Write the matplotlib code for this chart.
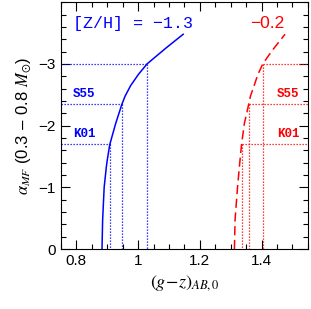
import numpy as np
import matplotlib
matplotlib.use("Agg")
import matplotlib.pyplot as plt
from matplotlib.ticker import MultipleLocator, FixedLocator, FixedFormatter

plt.rcParams['font.family'] = ['Liberation Sans', 'DejaVu Sans']
plt.rcParams['mathtext.fontset'] = 'stix'

# curves: alpha_MF vs colour
alpha_poor = [0.0, -0.47, -1.0, -1.33, -1.44, -1.69, -2.03, -2.34, -2.48,
              -2.65, -2.83, -3.0, -3.13, -3.26, -3.48]
gz_poor = [0.883, 0.885, 0.890, 0.897, 0.900, 0.908, 0.927, 0.947, 0.958,
           0.976, 1.001, 1.029, 1.060, 1.091, 1.146]
alpha_rich = [0.0, -0.47, -1.0, -1.33, -1.69, -2.03, -2.34, -2.48,
              -2.65, -2.83, -3.0, -3.13, -3.26, -3.48]
gz_rich = [1.312, 1.314, 1.322, 1.328, 1.335, 1.344, 1.358, 1.364,
           1.376, 1.388, 1.404, 1.422, 1.441, 1.476]

# reference slopes (K01, S55, -3)
ref_alpha = [-1.7, -2.35, -3.0]
ref_names = ['K01', 'S55', '']
ref_gz_poor = [0.908, 0.949, 1.029]
ref_gz_rich = [1.335, 1.359, 1.405]

xticks = [0.8, 1.0, 1.2, 1.4]
xticklabels = ['0.8', '1', '1.2', '1.4']
yticks = [0, -1, -2, -3]
yticklabels = ['0', '\u22121', '\u22122', '\u22123']

XMIN, XMAX = 0.75, 1.55
YMIN, YMAX = 0.0, -4.0

fig = plt.figure(figsize=(3.11, 3.09), dpi=100)
ax = fig.add_axes([0.196, 0.194, 0.794, 0.799])

ax.plot(gz_poor, alpha_poor, color='blue', lw=1.1)
ax.plot(gz_rich, alpha_rich, color='red', lw=1.1, ls=(0, (6, 3)))

dots = (0, (1, 1.4))
for a, xp, xr in zip(ref_alpha, ref_gz_poor, ref_gz_rich):
    ax.plot([XMIN, xp], [a, a], color='blue', lw=0.9, ls=dots)
    ax.plot([xp, xp], [a, YMIN], color='blue', lw=0.9, ls=dots)
    ax.plot([xr, XMAX], [a, a], color='red', lw=0.9, ls=dots)
    ax.plot([xr, xr], [a, YMIN], color='red', lw=0.9, ls=dots)

for a, name in zip(ref_alpha, ref_names):
    if not name:
        continue
    ax.text(0.789, a - 0.17, name, color='blue', fontsize=9, fontweight='bold',
            family='Liberation Mono', ha='left', va='center')
    ax.text(1.523, a - 0.17, name, color='red', fontsize=9, fontweight='bold',
            family='Liberation Mono', ha='right', va='center')

ax.text(0.789, -3.66, '[Z/H] = \u22121.3', color='blue', fontsize=12,
        family='Liberation Mono', ha='left', va='center')
ax.text(1.475, -3.66, '\u22120.2', color='red', fontsize=12.5,
        family='Liberation Sans', ha='right', va='center')

ax.set_xlim(XMIN, XMAX)
ax.set_ylim(YMIN, YMAX)
ax.xaxis.set_major_locator(FixedLocator(xticks))
ax.xaxis.set_major_formatter(FixedFormatter(xticklabels))
ax.xaxis.set_minor_locator(MultipleLocator(0.05))
ax.yaxis.set_major_locator(FixedLocator(yticks))
ax.yaxis.set_major_formatter(FixedFormatter(yticklabels))
ax.yaxis.set_minor_locator(MultipleLocator(0.2))
ax.tick_params(which='both', direction='in', top=True, right=True, labelsize=11)
ax.tick_params(which='major', length=6.5, width=0.8)
ax.tick_params(which='minor', length=3.3, width=0.8)

ax.set_xlabel(r'$(g\!-\!z)_{AB,0}$', fontsize=13, labelpad=4)
ax.set_ylabel(r'$\alpha_{MF}$ (0.3 $-$ 0.8 $M_{\odot}$)', fontsize=12, labelpad=4)

fig.savefig('out.png', dpi=100)
